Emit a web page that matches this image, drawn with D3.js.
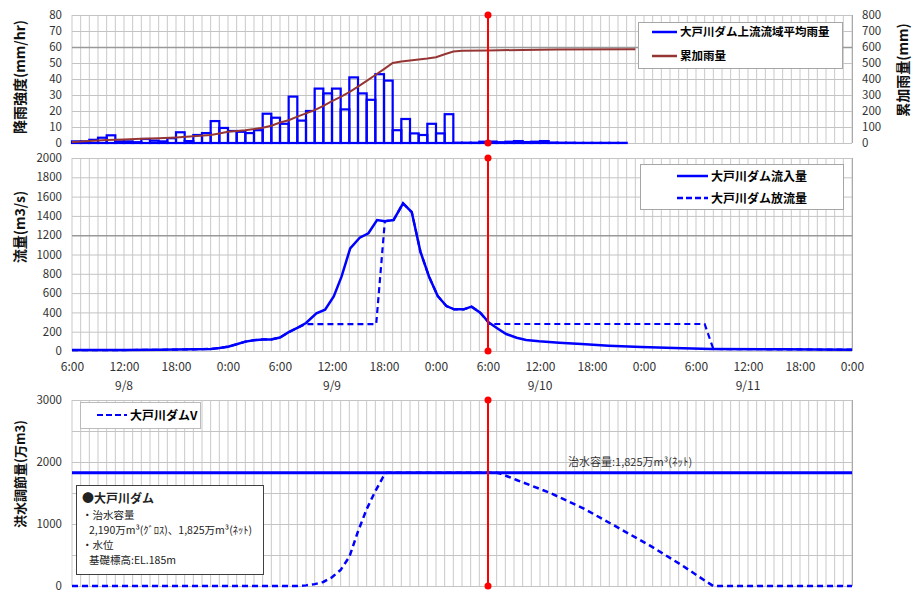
<!DOCTYPE html>
<html>
<head>
<meta charset="utf-8">
<script src="https://cdn.jsdelivr.net/npm/d3@7"></script>
<style>
  body { margin: 0; background: #fff; }
  text { font-family: "Noto Sans CJK JP", "Noto Sans", sans-serif; }
</style>
</head>
<body>
<svg width="916" height="592"></svg>
<script>
// Data ======================================================
// hours are counted from 9/8 6:00
let startTime = new Date(2013, 8, 8, 6, 0);
let endHour = 90;
let nowHour = 48;

// hourly basin rainfall (mm/hr), bar i covers hour i..i+1
let rainValues = [1, 1, 2, 3.3, 4.8, 1, 1, 0.5, 2.5, 1.5, 1, 3, 6.7, 1.2, 5, 6.2, 13.7, 9.4, 7.5, 7, 6.2, 8, 18.3, 15.8,
  12, 29, 14, 20, 34, 31, 34, 21, 41, 31, 27, 43, 39, 8, 15, 6, 5, 12, 6, 18,
  0.2, 0.2, 0.2, 0.8, 0.9, 0.5, 0.8, 1.2, 0.6, 0.8, 1.2, 0.3, 0.2, 0.2, 0.1, 0.1, 0.1, 0.1, 0.1, 0.1];

// cumulative rainfall (mm)
let cumHours = [0, 2, 4, 6, 8, 10, 12, 14, 16, 17, 18, 20, 22, 23, 24, 25, 26, 27, 28, 29, 30, 31, 32, 33, 34, 35, 36, 37, 38, 39, 40, 41, 42, 43, 44, 45, 48, 52, 56, 65];
let cumValues = [6, 12, 18, 22, 26, 30, 35, 42, 50, 60, 70, 80, 95, 108, 128, 142, 165, 185, 205, 232, 262, 288, 318, 352, 388, 425, 462, 500, 510, 516, 522, 528, 536, 555, 572, 576, 578, 582, 585, 586];

// dam inflow (m3/s)
let inflowHours = [0, 6, 10, 14, 16, 17, 18, 19, 20, 21, 22, 23, 24, 25, 26, 27, 28.2, 29.2, 30.2, 31.1, 32.1, 33.2, 34.2, 35.2, 36.1, 37.1, 38.2, 39.2, 40.2, 41.2, 42.2, 43.2, 44.1, 45.2, 46.1, 47.1, 48.1, 49.1, 50.1, 51.3, 52.4, 53.9, 56.2, 58.8, 61.9, 65.7, 69.5, 73.7, 81.8, 90];
let inflowValues = [10, 10, 12, 17, 22, 30, 45, 70, 97, 112, 120, 120, 140, 195, 240, 290, 390, 428, 566, 770, 1064, 1174, 1220, 1357, 1345, 1357, 1530, 1440, 1030, 770, 570, 466, 432, 432, 460, 397, 294, 234, 176, 138, 114, 100, 86, 72, 55, 41, 31, 21, 17, 14];

// dam outflow (m3/s)
let outflowHours = [0, 6, 10, 14, 16, 17, 18, 19, 20, 21, 22, 23, 24, 25, 26, 26.9, 35.1, 36.1, 37.1, 38.2, 39.2, 40.2, 41.2, 42.2, 43.2, 44.1, 45.2, 46.1, 47.1, 48.2, 73.0, 74.0, 81.8, 90];
let outflowValues = [10, 10, 12, 17, 22, 30, 45, 70, 97, 112, 120, 120, 140, 195, 240, 278, 278, 1345, 1357, 1530, 1440, 1030, 770, 570, 466, 432, 432, 460, 397, 280, 280, 21, 17, 14];

// flood control volume (10^4 m3)
let volHours = [0, 26, 27, 28, 29, 30, 31, 32, 33, 34, 35, 35.9, 36.3, 49, 49.4, 51.3, 55.1, 59, 62.8, 66.7, 70.5, 73.2, 74, 90];
let volValues = [0, 0, 10, 30, 65, 140, 260, 470, 880, 1240, 1530, 1760, 1825, 1825, 1815, 1710, 1505, 1253, 957, 650, 323, 70, 0, 0];

let capacity = 1825;
let capacityLabel = "治水容量:1,825万m³(ﾈｯﾄ)";
let damNotes = ["●大戸川ダム", "・治水容量", "2,190万m³(ｸﾞﾛｽ)、1,825万m³(ﾈｯﾄ)", "・水位", "基礎標高:EL.185m"];

// Setup =====================================================
let svg = d3.select("svg");
let blue = "#0000ff";
let brown = "#963634";
let fmt = d3.format("d");
let tickFont = "\"Noto Sans\", \"Liberation Sans\", sans-serif";

let x = d3.scaleTime()
  .domain([startTime, d3.timeHour.offset(startTime, endHour)])
  .range([72, 852]);
function hx(h) { return x(new Date(startTime.getTime() + h * 3600000)); }

let yRain = d3.scaleLinear().domain([0, 80]).range([143, 15]);
let yCum = d3.scaleLinear().domain([0, 800]).range([143, 15]);
let yFlow = d3.scaleLinear().domain([0, 2000]).range([351, 158]);
let yVol = d3.scaleLinear().domain([0, 3000]).range([586, 400]);

// draws grid, frame and left axis labels for one panel
function drawPanel(y, gridStep, labelStep, darkValue) {
  let g = svg.append("g");
  let [y0, y1] = y.range();
  let hours = d3.range(0, endHour + 1);
  g.selectAll(".vgrid").data(hours).enter().append("line")
    .attr("x1", hx).attr("x2", hx)
    .attr("y1", y0).attr("y2", y1)
    .attr("stroke", "#c9c9c9").attr("stroke-width", 1);
  let vals = d3.range(0, y.domain()[1] + 1, gridStep);
  g.selectAll(".hgrid").data(vals).enter().append("line")
    .attr("x1", 72).attr("x2", 852)
    .attr("y1", d => y(d) + 0.5).attr("y2", d => y(d) + 0.5)
    .attr("stroke", d => d === darkValue ? "#999" : "#c4c4c4")
    .attr("stroke-width", d => d === darkValue ? 1.5 : 1);
  g.append("line").attr("x1", 852.5).attr("x2", 852.5).attr("y1", y0).attr("y2", y1)
    .attr("stroke", "#aaa");
  g.append("g")
    .attr("transform", "translate(72,0)")
    .call(d3.axisLeft(y).tickValues(d3.range(0, y.domain()[1] + 1, labelStep)).tickFormat(fmt).tickSize(0).tickPadding(10))
    .call(a => a.select(".domain").remove())
    .selectAll("text").attr("font-size", 11.5).attr("fill", "#333")
    .attr("font-family", tickFont);
  return g;
}

function rotatedTitle(xPos, yPos, label, size) {
  svg.append("text")
    .attr("transform", "translate(" + xPos + "," + yPos + ") rotate(-90)")
    .attr("text-anchor", "middle")
    .attr("dominant-baseline", "central")
    .attr("font-size", size)
    .attr("font-weight", "bold")
    .attr("fill", "#111")
    .text(label);
}

function redMarker(y) {
  let [y0, y1] = y.range();
  svg.append("line").attr("x1", hx(nowHour)).attr("x2", hx(nowHour))
    .attr("y1", y0).attr("y2", y1)
    .attr("stroke", "#ff0000").attr("stroke-width", 2);
  svg.selectAll(null).data([y0, y1]).enter().append("circle")
    .attr("cx", hx(nowHour)).attr("cy", d => d).attr("r", 3.5)
    .attr("fill", "#ff0000");
}

function zip(hours, values) { return hours.map((h, i) => [h, values[i]]); }

// Top panel: rainfall ======================================
drawPanel(yRain, 10, 10, 60);
svg.append("g")
  .attr("transform", "translate(852,0)")
  .call(d3.axisRight(yCum).tickValues(d3.range(0, 801, 100)).tickFormat(fmt).tickSize(0).tickPadding(10))
  .call(a => a.select(".domain").remove())
  .selectAll("text").attr("font-size", 11.5).attr("fill", "#333")
  .attr("font-family", tickFont);

svg.append("g").selectAll("rect")
  .data(rainValues)
  .enter().append("rect")
  .attr("x", (d, i) => hx(i))
  .attr("width", (d, i) => hx(i + 1) - hx(i))
  .attr("y", d => yRain(d))
  .attr("height", d => yRain(0) - yRain(d))
  .attr("fill", "none")
  .attr("stroke", blue)
  .attr("stroke-width", 2.2);

svg.append("path")
  .datum(zip(cumHours, cumValues))
  .attr("d", d3.line().x(d => hx(d[0])).y(d => yCum(d[1])))
  .attr("fill", "none").attr("stroke", brown).attr("stroke-width", 2);

redMarker(yRain);

rotatedTitle(19, 77, "降雨強度(mm/hr)", 14);
rotatedTitle(902, 70, "累加雨量(mm)", 14);

let leg1 = svg.append("g");
leg1.append("rect").attr("x", 638.5).attr("y", 22.5).attr("width", 204).attr("height", 46)
  .attr("fill", "#fff").attr("stroke", "#a6a6a6");
leg1.append("line").attr("x1", 652).attr("x2", 677).attr("y1", 32).attr("y2", 32)
  .attr("stroke", blue).attr("stroke-width", 2.5);
leg1.append("text").attr("x", 680).attr("y", 36).attr("font-size", 11.5).attr("font-weight", "bold")
  .text("大戸川ダム上流流域平均雨量");
leg1.append("line").attr("x1", 652).attr("x2", 677).attr("y1", 56).attr("y2", 56)
  .attr("stroke", brown).attr("stroke-width", 2.5);
leg1.append("text").attr("x", 680).attr("y", 60).attr("font-size", 11.5).attr("font-weight", "bold")
  .text("累加雨量");

// Middle panel: flows ======================================
drawPanel(yFlow, 200, 200, 1200);

let flowLine = d3.line().x(d => hx(d[0])).y(d => yFlow(d[1]));
svg.append("path")
  .datum(zip(outflowHours, outflowValues))
  .attr("d", flowLine)
  .attr("fill", "none").attr("stroke", blue).attr("stroke-width", 2.2)
  .attr("stroke-dasharray", "6,4");
svg.append("path")
  .datum(zip(inflowHours, inflowValues))
  .attr("d", flowLine)
  .attr("fill", "none").attr("stroke", blue).attr("stroke-width", 2.5);

redMarker(yFlow);

let xAxis = svg.append("g")
  .attr("transform", "translate(0,351)")
  .call(d3.axisBottom(x).ticks(d3.timeHour.every(6)).tickFormat(d3.timeFormat("%-H:%M")).tickSize(0).tickPadding(11));
xAxis.select(".domain").remove();
xAxis.selectAll("text").attr("font-size", 12).attr("fill", "#333")
  .attr("font-family", tickFont);

let dayNoons = d3.timeDay.range(new Date(2013, 8, 8), new Date(2013, 8, 12)).map(d => d3.timeHour.offset(d, 12));
svg.append("g").selectAll("text")
  .data(dayNoons)
  .enter().append("text")
  .attr("x", d => x(d)).attr("y", 390)
  .attr("text-anchor", "middle").attr("font-size", 12).attr("fill", "#333")
  .attr("font-family", tickFont)
  .text(d3.timeFormat("%-m/%-d"));

rotatedTitle(19, 227, "流量(m3/s)", 14);

let leg2 = svg.append("g");
leg2.append("rect").attr("x", 640.5).attr("y", 164.5).attr("width", 203).attr("height", 45)
  .attr("fill", "#fff").attr("stroke", "#a6a6a6");
leg2.append("line").attr("x1", 677).attr("x2", 708).attr("y1", 176).attr("y2", 176)
  .attr("stroke", blue).attr("stroke-width", 2.5);
leg2.append("text").attr("x", 711).attr("y", 180.5).attr("font-size", 12).attr("font-weight", "bold")
  .text("大戸川ダム流入量");
leg2.append("line").attr("x1", 677).attr("x2", 708).attr("y1", 198).attr("y2", 198)
  .attr("stroke", blue).attr("stroke-width", 2.5).attr("stroke-dasharray", "6,3");
leg2.append("text").attr("x", 711).attr("y", 202.5).attr("font-size", 12).attr("font-weight", "bold")
  .text("大戸川ダム放流量");

// Bottom panel: flood control volume ========================
drawPanel(yVol, 500, 1000, null);

svg.append("path")
  .datum(zip(volHours, volValues))
  .attr("d", d3.line().x(d => hx(d[0])).y(d => yVol(d[1])))
  .attr("fill", "none").attr("stroke", blue).attr("stroke-width", 2.5)
  .attr("stroke-dasharray", "6,4");

svg.append("line")
  .attr("x1", 72).attr("x2", 852)
  .attr("y1", yVol(capacity)).attr("y2", yVol(capacity))
  .attr("stroke", blue).attr("stroke-width", 3);

svg.append("text").attr("x", 568).attr("y", yVol(capacity) - 7)
  .attr("font-size", 11).attr("fill", "#333").text(capacityLabel);

redMarker(yVol);

rotatedTitle(19, 474, "洪水調節量(万m3)", 13);

let leg3 = svg.append("g");
leg3.append("rect").attr("x", 80.5).attr("y", 402.5).attr("width", 120).attr("height", 26)
  .attr("fill", "#fff").attr("stroke", "#bbb");
leg3.append("line").attr("x1", 97).attr("x2", 127).attr("y1", 415).attr("y2", 415)
  .attr("stroke", blue).attr("stroke-width", 2.2).attr("stroke-dasharray", "6,3");
leg3.append("text").attr("x", 130).attr("y", 419.5).attr("font-size", 12).attr("font-weight", "bold")
  .text("大戸川ダムV");

let note = svg.append("g");
note.append("rect").attr("x", 76.5).attr("y", 485.5).attr("width", 187).attr("height", 89)
  .attr("fill", "#fff").attr("stroke", "#404040");
let noteX = [82, 82, 89, 82, 89];
let noteY = [503, 519, 534, 549, 564];
note.selectAll("text").data(damNotes).enter().append("text")
  .attr("x", (d, i) => noteX[i]).attr("y", (d, i) => noteY[i])
  .attr("font-size", (d, i) => i === 0 ? 12 : 10.5)
  .attr("font-weight", (d, i) => i === 0 ? "bold" : "normal")
  .attr("fill", "#222")
  .text(d => d);
</script>
</body>
</html>
